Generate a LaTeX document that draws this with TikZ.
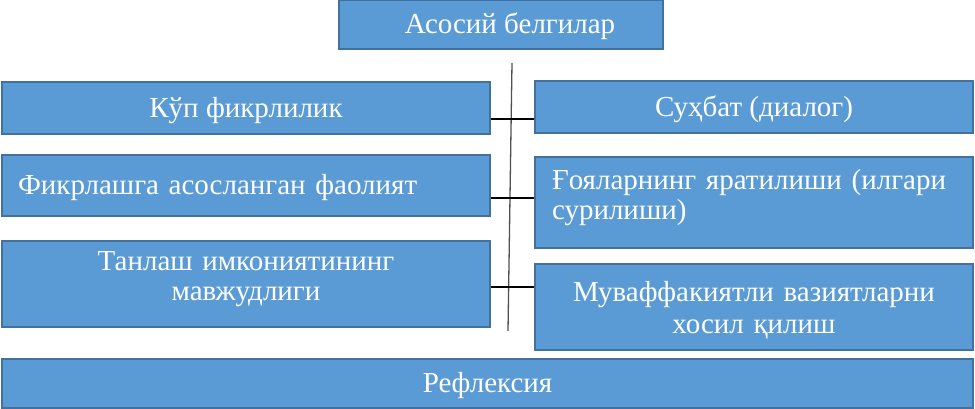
\documentclass[tikz,border=0pt]{standalone}
\usepackage{fontspec}
\setmainfont{Liberation Serif}
\definecolor{boxfill}{HTML}{5B9BD5}
\definecolor{boxline}{HTML}{41719C}
\definecolor{vline}{HTML}{505050}
\begin{document}
\begin{tikzpicture}[x=1pt,y=1pt,
  box/.style={draw=boxline, line width=1.2pt, fill=boxfill, text=white, inner sep=0pt,
    font=\fontsize{29}{30}\selectfont, align=center},
  one/.style={text height=24, text depth=5},
  conn/.style={line width=1.1pt, black}]
\useasboundingbox (0,0) rectangle (975,409);
\node[box, one, minimum width=324, minimum height=49] (top) at (501,384.5) {\hspace*{18pt}Асосий белгилар};
\node[box, one, minimum width=488, minimum height=52] (l1) at (246,301) {Кўп фикрлилик};
\node[box, one, minimum width=438, minimum height=52] (r1) at (754,302) {Суҳбат (диалог)};
\node[box, one, minimum width=488, minimum height=61, text width=456, align=left] (l2) at (246,223.5) {Фикрлашга асосланган фаолият};
\node[box, minimum width=438, minimum height=91, text width=404, align=left, text height=24, text depth=49] (r2) at (754,206.5) {Ғояларнинг яратилиши (илгари\\сурилиши)};
\node[box, minimum width=488, minimum height=86, text width=480, text height=24, text depth=50] (l3) at (246,125) {Танлаш имкониятининг\\мавжудлиги};
\node[box, minimum width=438, minimum height=86, text width=430, font=\fontsize{29}{32}\selectfont, text height=24, text depth=34] (r3) at (754,102) {Муваффакиятли вазиятларни\\хосил қилиш};
\node[box, one, minimum width=971, minimum height=49] (bot) at (487.5,25.5) {Рефлексия};
\coordinate (vt) at (512,346);
\coordinate (vb) at (508,78);
\coordinate (h1) at (0,290);
\coordinate (h2) at (0,211);
\coordinate (h3) at (0,122);
\draw[line width=1.3pt, vline] (vt) -- (vb);
\draw[conn] (l1.east |- h1) -- (r1.west |- h1);
\draw[conn] (l2.east |- h2) -- (r2.west |- h2);
\draw[conn] (l3.east |- h3) -- (r3.west |- h3);
\end{tikzpicture}
\end{document}
